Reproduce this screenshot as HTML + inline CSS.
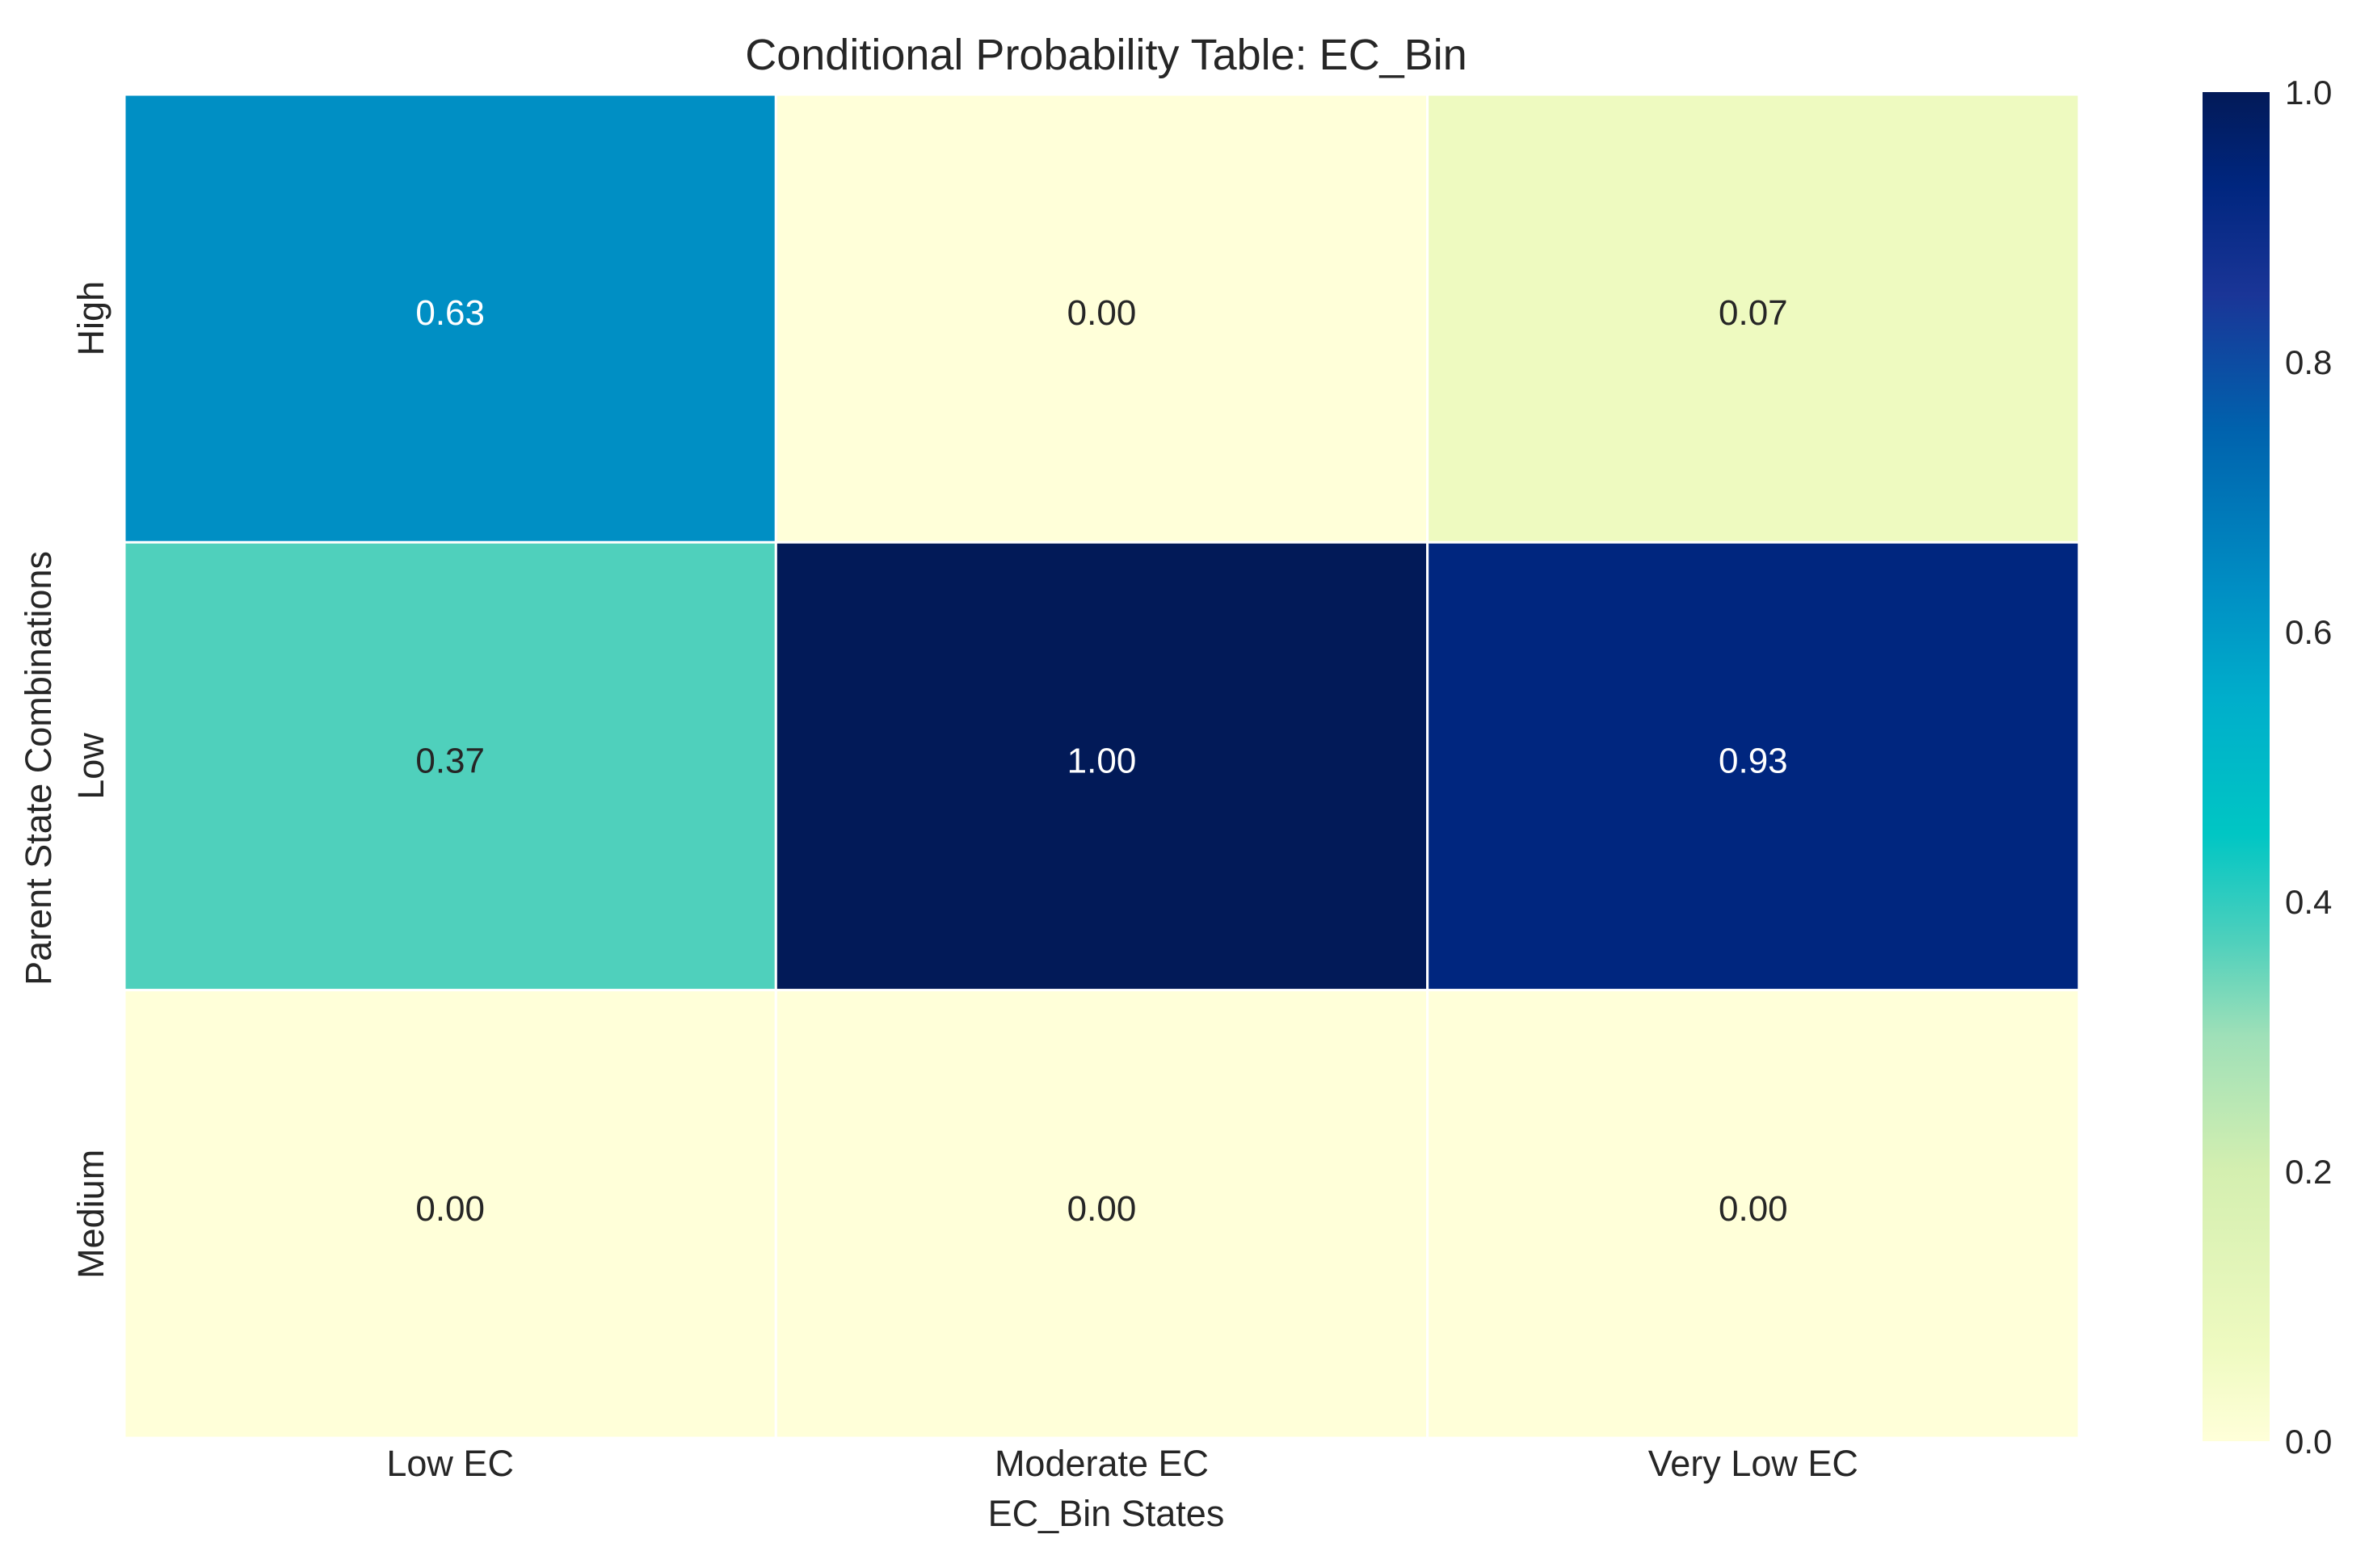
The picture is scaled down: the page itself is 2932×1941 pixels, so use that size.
<!DOCTYPE html>
<html><head><meta charset="utf-8"><style>
body{margin:0;background:#fff;}
svg text{font-family:"Liberation Sans",sans-serif;fill:#262626;}
</style></head><body>
<svg id="chart" width="2932" height="1936" viewBox="0 0 2932 1936" xmlns="http://www.w3.org/2000/svg">
<defs>
<linearGradient id="cbgrad" x1="0" y1="1" x2="0" y2="0"></linearGradient>
</defs>
<text x="1369" y="86" font-size="54" text-anchor="middle">Conditional Probability Table: EC_Bin</text>
<g id="cells"></g>
<g id="xticks"></g>
<g id="yticks"></g>
<text x="1369" y="1889" font-size="45" text-anchor="middle">EC_Bin States</text>
<text transform="translate(63,951) rotate(-90)" font-size="45" text-anchor="middle">Parent State Combinations</text>
<rect x="2726" y="114" width="83" height="1670" fill="url(#cbgrad)"/>
<g id="cbticks"></g>
</svg>
<script>
const columns = ["Low EC", "Moderate EC", "Very Low EC"];
const rows = ["High", "Low", "Medium"];
const rowHigh = [0.63, 0.00, 0.07];
const rowLow = [0.37, 1.00, 0.93];
const rowMedium = [0.00, 0.00, 0.00];
const cbTicks = [0.0, 0.2, 0.4, 0.6, 0.8, 1.0];
const values = [rowHigh, rowLow, rowMedium];

const stops = [[0,"#ffffd9"],[0.07,"#eefac0"],[0.2,"#d4efb0"],[0.3,"#9fe0b8"],[0.37,"#4fd0bc"],[0.45,"#00c6c4"],[0.55,"#00aecb"],[0.63,"#008fc4"],[0.75,"#0062ad"],[0.85,"#1a3597"],[0.93,"#00267f"],[1,"#021a58"]];
function hex(h){return [1,3,5].map(i=>parseInt(h.substr(i,2),16));}
function color(v){
  v=Math.max(0,Math.min(1,v));
  for(let i=1;i<stops.length;i++){
    if(v<=stops[i][0]){
      const a=stops[i-1],b=stops[i];const t=(v-a[0])/(b[0]-a[0]);
      const ca=hex(a[1]),cb=hex(b[1]);
      return "rgb("+ca.map((c,k)=>Math.round(c+(cb[k]-c)*t)).join(",")+")";
    }
  }
  return stops[stops.length-1][1];
}
const NS="http://www.w3.org/2000/svg";
const L=154,R=2573,T=117,B=1780;
const cw=(R-L)/columns.length, ch=(B-T)/rows.length;
const xPos=i=>L+i*cw, yPos=j=>T+j*ch;
const cbY=v=>1784-v*(1784-114);

const grad=document.getElementById("cbgrad");
stops.forEach(s=>{const st=document.createElementNS(NS,"stop");st.setAttribute("offset",s[0]);st.setAttribute("stop-color",s[1]);grad.appendChild(st);});

const cells=document.getElementById("cells");
values.forEach((row,j)=>row.forEach((v,i)=>{
  const r=document.createElementNS(NS,"rect");
  r.setAttribute("x",xPos(i));r.setAttribute("y",yPos(j));
  r.setAttribute("width",cw);r.setAttribute("height",ch);
  r.setAttribute("fill",color(v));r.setAttribute("stroke","#fff");r.setAttribute("stroke-width","3");
  
  
  cells.appendChild(r);
  const t=document.createElementNS(NS,"text");
  t.setAttribute("x",xPos(i)+cw/2);t.setAttribute("y",yPos(j)+ch/2+8);
  t.setAttribute("font-size","44");t.setAttribute("text-anchor","middle");
  t.setAttribute("style","fill:"+(v>0.5?"#ffffff":"#262626"));
  t.textContent=v.toFixed(2);
  
  
  cells.appendChild(t);
}));
const xt=document.getElementById("xticks");
columns.forEach((c,i)=>{
  const t=document.createElementNS(NS,"text");
  t.setAttribute("x",xPos(i)+cw/2);t.setAttribute("y",1827);
  t.setAttribute("font-size","45");t.setAttribute("text-anchor","middle");
  t.textContent=c;
  
  
  xt.appendChild(t);
});
const yt=document.getElementById("yticks");
rows.forEach((c,j)=>{
  const t=document.createElementNS(NS,"text");
  const cy=yPos(j)+ch/2;
  t.setAttribute("transform","translate(128,"+cy+") rotate(-90)");
  t.setAttribute("font-size","45");t.setAttribute("text-anchor","middle");
  t.textContent=c;
  
  
  yt.appendChild(t);
});
const cbt=document.getElementById("cbticks");
cbTicks.forEach(v=>{
  const t=document.createElementNS(NS,"text");
  t.setAttribute("x",2828);t.setAttribute("y",cbY(v)+15);
  t.setAttribute("font-size","42");
  t.textContent=v.toFixed(1);
  
  
  cbt.appendChild(t);
});
</script>
</body></html>
